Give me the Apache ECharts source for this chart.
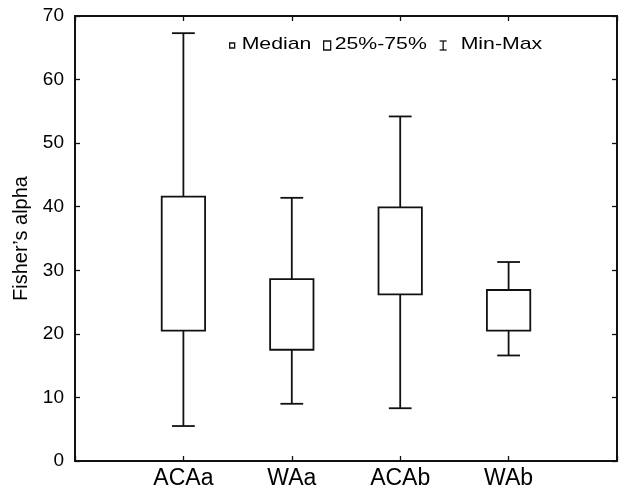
<!DOCTYPE html>
<html>
<head>
<meta charset="utf-8">
<script src="https://cdn.jsdelivr.net/npm/echarts@6/dist/echarts.min.js"></script>
<style>
  html, body { margin: 0; padding: 0; background: #fff; }
  #chart { width: 621px; height: 496px; }
</style>
</head>
<body>
<div id="chart"></div>
<script>
// groups along the x axis
const categories = ['ACAa', 'WAa', 'ACAb', 'WAb']
// box values
const minValues = [5.5, 9.0, 8.3, 16.6]
const q1Values = [20.5, 17.5, 26.2, 20.5]
const q3Values = [41.6, 28.6, 39.9, 26.9]
const maxValues = [67.3, 41.4, 54.2, 31.3]
const yTicks = [0, 10, 20, 30, 40, 50, 60, 70]

const ink = '#111'
const font = 'Liberation Sans, Arial, sans-serif'

const boxData = categories.map((c, i) => [i + 1, minValues[i], q1Values[i], q3Values[i], maxValues[i]])

function renderBox(params, api) {
  const x = api.value(0)
  const pMin = api.coord([x, api.value(1)])
  const pQ1 = api.coord([x, api.value(2)])
  const pQ3 = api.coord([x, api.value(3)])
  const pMax = api.coord([x, api.value(4)])
  const unit = api.size([1, 0])[0]
  const boxW = unit * 0.4
  const capW = unit * 0.21
  const lineStyle = { stroke: ink, lineWidth: 1.8, fill: null }
  return {
    type: 'group',
    children: [
      { type: 'line', shape: { x1: pQ3[0], y1: pQ3[1], x2: pMax[0], y2: pMax[1] }, style: lineStyle },
      { type: 'line', shape: { x1: pQ1[0], y1: pQ1[1], x2: pMin[0], y2: pMin[1] }, style: lineStyle },
      { type: 'line', shape: { x1: pMax[0] - capW / 2, y1: pMax[1], x2: pMax[0] + capW / 2, y2: pMax[1] }, style: lineStyle },
      { type: 'line', shape: { x1: pMin[0] - capW / 2, y1: pMin[1], x2: pMin[0] + capW / 2, y2: pMin[1] }, style: lineStyle },
      {
        type: 'rect',
        shape: { x: pQ3[0] - boxW / 2, y: pQ3[1], width: boxW, height: pQ1[1] - pQ3[1] },
        style: { stroke: ink, lineWidth: 1.8, fill: '#fff' }
      }
    ]
  }
}

const chart = echarts.init(document.getElementById('chart'))

const tick = { show: true, inside: true, length: 5, lineStyle: { color: ink, width: 1.3 } }
const line = { show: true, onZero: false, lineStyle: { color: ink, width: 2 } }

const tickOnly = {
  axisLine: line,
  axisTick: tick,
  axisLabel: { show: false },
  splitLine: { show: false }
}

const options = {
  backgroundColor: '#fff',
  animation: false,
  grid: {
    left: 75,
    right: 4,
    top: 16,
    bottom: 35,
    show: false
  },
  xAxis: [{
    type: 'value',
    min: 0,
    max: 5,
    interval: 1,
    axisLine: line,
    axisTick: tick,
    splitLine: { show: false },
    axisLabel: {
      margin: 6,
      color: '#000',
      fontSize: 23,
      fontFamily: font,
      formatter: (v) => categories[v - 1] || ''
    }
  }, Object.assign({ type: 'value', position: 'top', min: 0, max: 5, interval: 1 }, tickOnly)],
  yAxis: [{
    type: 'value',
    min: yTicks[0],
    max: yTicks[yTicks.length - 1],
    interval: 10,
    name: 'Fisher\u2019s alpha',
    nameLocation: 'middle',
    nameGap: 42,
    nameTextStyle: { color: '#000', fontSize: 20, fontFamily: font },
    axisLine: line,
    axisTick: tick,
    splitLine: { show: false },
    axisLabel: { margin: 11, color: '#000', fontSize: 19, fontFamily: font }
  }, Object.assign({ type: 'value', position: 'right', min: 0, max: 70, interval: 10 }, tickOnly)],
  graphic: [{
    type: 'group',
    left: 229,
    top: 36,
    children: [
      { type: 'rect', shape: { x: 0, y: 7, width: 5, height: 5 }, style: { stroke: ink, lineWidth: 1.3, fill: '#fff' } },
      { type: 'text', x: 12, y: 0, scaleX: 1.25, style: { text: 'Median', fontSize: 17, fontFamily: font, fill: '#000' } },
      { type: 'rect', shape: { x: 94, y: 5, width: 7, height: 9 }, style: { stroke: ink, lineWidth: 1.3, fill: '#fff' } },
      { type: 'text', x: 105, y: 0, scaleX: 1.25, style: { text: '25%-75%', fontSize: 17, fontFamily: font, fill: '#000' } },
      { type: 'line', shape: { x1: 210, y1: 5, x2: 217, y2: 5 }, style: { stroke: ink, lineWidth: 1.3 } },
      { type: 'line', shape: { x1: 210, y1: 14, x2: 217, y2: 14 }, style: { stroke: ink, lineWidth: 1.3 } },
      { type: 'line', shape: { x1: 213.5, y1: 5, x2: 213.5, y2: 14 }, style: { stroke: ink, lineWidth: 1.3 } },
      { type: 'text', x: 231, y: 0, scaleX: 1.25, style: { text: 'Min-Max', fontSize: 17, fontFamily: font, fill: '#000' } }
    ]
  }],
  series: [{
    name: '25%-75%',
    type: 'custom',
    renderItem: renderBox,
    encode: { x: 0, y: [1, 2, 3, 4] },
    data: boxData
  }]
}

chart.setOption(options)
</script>
</body>
</html>
